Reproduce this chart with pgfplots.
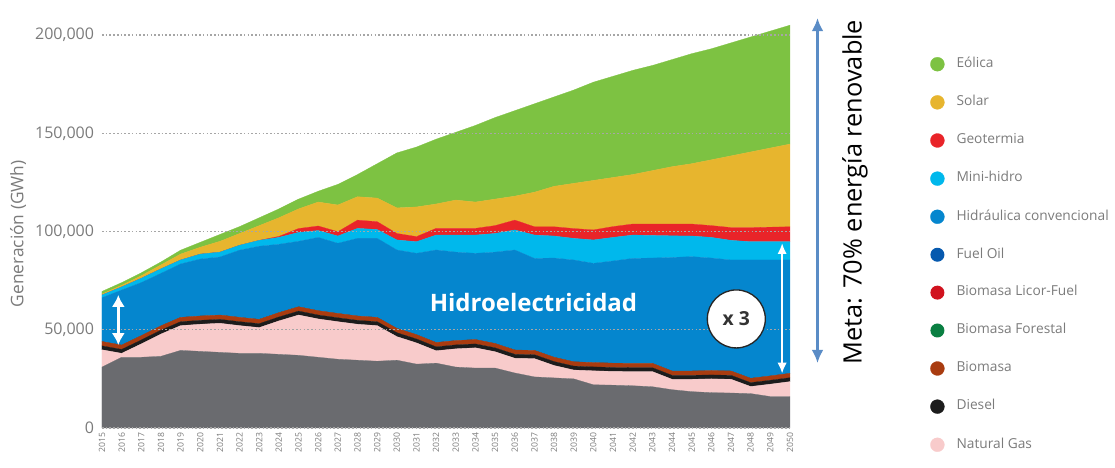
\documentclass[border=0pt]{standalone}
\usepackage{pgfplots}
\pgfplotsset{compat=1.18}
\usepackage{pgfplotstable}
\usepackage{fontspec}
\setmainfont{Open Sans}
\usetikzlibrary{arrows.meta}

\definecolor{eolica}{HTML}{7DC242}
\definecolor{solar}{HTML}{E7B52E}
\definecolor{geo}{HTML}{E92429}
\definecolor{minihidro}{HTML}{00B8EC}
\definecolor{hidro}{HTML}{0586CE}
\definecolor{fueloil}{HTML}{0659AE}
\definecolor{licor}{HTML}{D1121E}
\definecolor{forestal}{HTML}{0A7F42}
\definecolor{biomasa}{HTML}{A93C10}
\definecolor{diesel}{HTML}{1C1C1C}
\definecolor{gas}{HTML}{F8CBCB}
\definecolor{carbon}{HTML}{6A6B6F}
\definecolor{txtgray}{HTML}{7B7B7B}
\definecolor{metablue}{HTML}{5A8CC6}

% generation by source, GWh
\pgfplotstableread{
year coal gas diesel bio forestal licor fueloil hidro mini geo solar eolica
2015 31000 8800 2000 2200 0 0 0 22300 1400 0 500 1300
2016 36000 2000 2000 2200 0 0 0 28000 1600 0 800 1400
2017 36000 6800 2000 2200 0 0 0 27000 2200 0 1300 1500
2018 36500 11300 2000 2200 0 0 0 26700 2300 0 2000 1500
2019 39500 12600 2000 2200 0 0 0 27200 2000 0 3000 2000
2020 39000 13800 2000 2200 0 0 0 29000 2500 0 3500 2500
2021 38500 14800 2000 2200 0 0 0 29500 2500 0 5500 3500
2022 38000 14100 2000 2200 0 0 0 34200 2500 0 6000 3500
2023 38000 13100 2000 2200 0 0 0 37200 3000 0 7500 4000
2024 37500 17000 2000 2200 0 0 0 34800 3500 500 9500 4500
2025 37000 20500 2000 2200 0 0 0 33300 4500 2000 10000 5000
2026 36000 19500 2000 2200 0 0 0 37300 3500 2300 12200 5500
2027 35000 19100 2000 2200 0 0 0 35700 3700 2200 13600 10500
2028 34500 18300 2000 2200 0 0 0 39500 5100 4200 11900 11300
2029 34000 18100 2000 2200 0 0 0 40200 4500 4000 12000 17500
2030 34500 12000 2000 2200 0 0 0 39900 5100 3300 13000 28000
2031 32500 10800 2000 2200 0 0 0 41400 5900 2600 15100 30500
2032 33000 6300 2000 2200 0 0 0 47100 7600 3400 12400 33000
2033 31000 9300 2000 2200 0 0 0 45000 8700 3400 14400 34500
2034 30500 10300 2000 2200 0 0 0 43900 9300 3400 13400 39000
2035 30500 8300 2000 2200 0 0 0 46500 9500 4000 13500 41500
2036 28000 7500 2000 2200 0 0 0 50900 10200 5000 12200 43500
2037 26000 9300 2000 2200 0 0 0 46800 11900 4200 17600 45000
2038 25500 6300 2000 2200 0 0 0 50500 11200 4700 20600 45500
2039 25000 4500 2000 2200 0 0 0 51800 11000 5000 23000 47500
2040 22000 7100 2000 2200 0 0 0 50500 11900 5100 25200 50000
2041 21800 7000 2000 2200 0 0 0 52000 12000 5500 25000 51500
2042 21500 7200 2000 2200 0 0 0 53400 11900 5600 25200 53000
2043 21000 7700 2000 2200 0 0 0 53600 11500 5800 27200 53500
2044 19500 5300 2000 2200 0 0 0 57800 11000 6000 29200 54500
2045 18500 6300 2000 2200 0 0 0 58200 10500 6100 30700 56000
2046 18000 7000 2000 2200 0 0 0 57300 10500 6000 33500 56500
2047 17800 7000 2000 2200 0 0 0 56500 10000 6500 36500 57500
2048 17500 3600 2000 2200 0 0 0 60200 9300 7200 38500 58500
2049 16000 6300 2000 2200 0 0 0 59000 9300 7400 40300 59500
2050 16000 7600 2000 2200 0 0 0 57700 9300 7600 42100 60500
}\gen

\begin{document}
\begin{tikzpicture}
\useasboundingbox (-76.5pt,-30pt) rectangle (759.75pt,321pt);
\begin{axis}[
  at={(0pt,0pt)}, anchor=south west,
  scale only axis, width=516pt, height=294.75pt,
  xmin=2015, xmax=2050, ymin=0, ymax=200000,
  stack plots=y,
  clip=false,
  axis line style={draw=none},
  axis on top,
  ymajorgrids,
  grid style={black!35, line width=0.8pt, dash pattern=on 1.2pt off 1.6pt},
  major tick length=0pt,
  xtick={2015,...,2050},
  ytick={0,50000,100000,150000,200000},
  scaled y ticks=false,
  /pgf/number format/assume math mode=true,
  yticklabel style={font=\fontsize{12}{14}\selectfont, text=txtgray,
    /pgf/number format/fixed, /pgf/number format/precision=0,
    /pgf/number format/1000 sep={,}, xshift=-2.5pt},
  xticklabel style={font=\fontsize{6.5}{7}\selectfont, text=txtgray,
    rotate=90, anchor=east, /pgf/number format/fixed,
    /pgf/number format/1000 sep={}},
  ylabel={Generación (GWh)},
  ylabel style={at={(axis description cs:-0.122,0.494)}, anchor=center,
    font=\fontsize{13}{15}\selectfont, text=txtgray},
  reverse legend,
  legend cell align=left,
  legend image code/.code={\fill[#1] (0pt,0pt) circle (5.25pt);},
  legend style={at={(axis description cs:1.2035,0.4415)}, anchor=west,
    draw=none, fill=none, inner sep=0pt, row sep=17.9pt, column sep=9pt,
    font=\fontsize{10.3}{12}\selectfont, text=txtgray,
    nodes={inner sep=0pt, text height=7pt, text depth=2pt}},
]
\addplot[fill=carbon, draw=carbon, line width=0.2pt, forget plot] table[x=year, y=coal]{\gen} \closedcycle;
\addplot[fill=gas, draw=gas, line width=0.2pt] table[x=year, y=gas]{\gen} \closedcycle;
\addlegendentry{Natural Gas}
\addplot[fill=diesel, draw=diesel, line width=0.2pt] table[x=year, y=diesel]{\gen} \closedcycle;
\addlegendentry{Diesel}
\addplot[fill=biomasa, draw=biomasa, line width=0.2pt] table[x=year, y=bio]{\gen} \closedcycle;
\addlegendentry{Biomasa}
\addplot[fill=forestal, draw=none] table[x=year, y=forestal]{\gen} \closedcycle;
\addlegendentry{Biomasa Forestal}
\addplot[fill=licor, draw=none] table[x=year, y=licor]{\gen} \closedcycle;
\addlegendentry{Biomasa Licor-Fuel}
\addplot[fill=fueloil, draw=none] table[x=year, y=fueloil]{\gen} \closedcycle;
\addlegendentry{Fuel Oil}
\addplot[fill=hidro, draw=hidro, line width=0.2pt] table[x=year, y=hidro]{\gen} \closedcycle;
\addlegendentry{Hidráulica convencional}
\addplot[fill=minihidro, draw=minihidro, line width=0.2pt] table[x=year, y=mini]{\gen} \closedcycle;
\addlegendentry{Mini-hidro}
\addplot[fill=geo, draw=geo, line width=0.2pt] table[x=year, y=geo]{\gen} \closedcycle;
\addlegendentry{Geotermia}
\addplot[fill=solar, draw=solar, line width=0.2pt] table[x=year, y=solar]{\gen} \closedcycle;
\addlegendentry{Solar}
\addplot[fill=eolica, draw=eolica, line width=0.2pt] table[x=year, y=eolica]{\gen} \closedcycle;
\addlegendentry{Eólica}

% anchor points for the annotations drawn above the areas
\coordinate (arrA1) at (axis cs:2015.83,67700);
\coordinate (arrA2) at (axis cs:2015.83,42200);
\coordinate (arrB1) at (axis cs:2049.6,94000);
\coordinate (arrB2) at (axis cs:2049.6,27800);
\coordinate (hidroT) at (axis cs:2036.95,64100);
\coordinate (times) at (axis cs:2047.27,55500);
\coordinate (meta1) at (axis cs:2051.4,208700);
\coordinate (meta2) at (axis cs:2051.4,33000);
\coordinate (metaT) at (axis cs:2053.3,120100);
\end{axis}

\draw[white, line width=2.2pt, {Latex[length=9pt,width=10pt]}-{Latex[length=9pt,width=10pt]}]
  (arrA1) -- (arrA2);
\draw[white, line width=1.2pt, {Latex[length=8pt,width=7pt]}-{Latex[length=8pt,width=7pt]}]
  (arrB1) -- (arrB2);
\node[text=white, font=\bfseries\fontsize{18}{20}\selectfont] at (hidroT) {Hidroelectricidad};
\node[circle, fill=white, draw=black!85, line width=1pt,
  minimum size=43.5pt, inner sep=0pt, font=\bfseries\fontsize{14.5}{16}\selectfont,
  text=black!80] at (times) {x 3};
\draw[metablue, line width=2pt, {Latex[length=10pt,width=9pt]}-{Latex[length=10pt,width=9pt]}]
  (meta1) -- (meta2);
\node[rotate=90, font=\fontsize{19}{21}\selectfont] at (metaT) {Meta: 70\% energía renovable};
\end{tikzpicture}
\end{document}
